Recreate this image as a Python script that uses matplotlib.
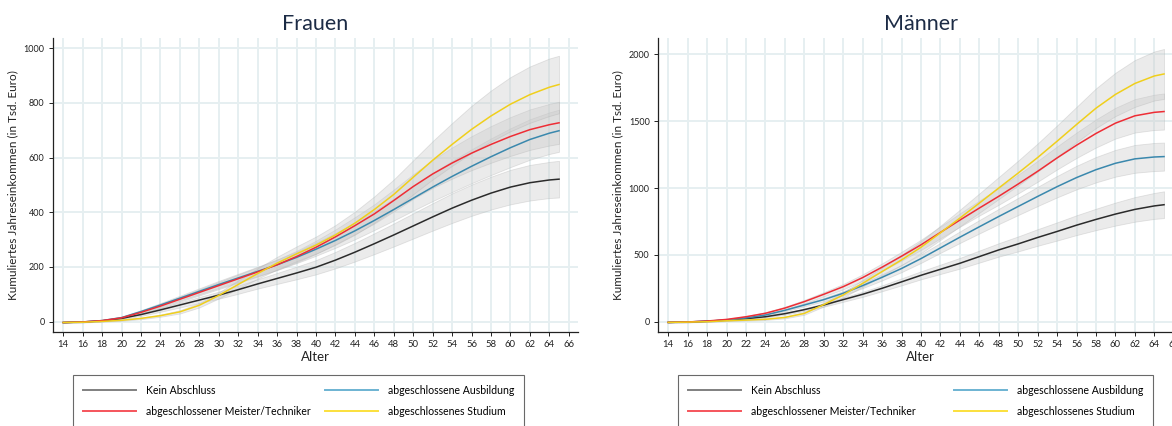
import matplotlib
matplotlib.use("Agg")
import matplotlib.pyplot as plt
from matplotlib.lines import Line2D

plt.rcParams['font.family'] = ['Lato', 'DejaVu Sans']

ages = [14, 16, 18, 20, 22, 24, 26, 28, 30, 32, 34, 36, 38, 40, 42, 44, 46, 48, 50, 52, 54, 56, 58, 60, 62, 64, 65]

series_labels = ["Kein Abschluss", "abgeschlossene Ausbildung",
                 "abgeschlossener Meister/Techniker", "abgeschlossenes Studium"]

# Frauen
f_kein = [-3, -1, 3, 12, 26, 43, 61, 79, 97, 117, 138, 158, 178, 199, 225, 254, 285, 317, 350, 383, 415, 444, 470, 492, 508, 518, 521]
f_kein_ci = [1, 1, 2, 3, 5, 7, 9, 11, 13, 15, 17, 20, 23, 26, 30, 34, 38, 42, 46, 50, 54, 57, 60, 63, 65, 66, 67]
f_ausb = [-3, -1, 4, 15, 37, 61, 86, 111, 136, 160, 184, 208, 235, 265, 297, 332, 370, 410, 451, 492, 531, 568, 603, 636, 666, 689, 698]
f_ausb_ci = [1, 1, 2, 3, 5, 7, 9, 11, 13, 15, 17, 19, 21, 24, 27, 31, 35, 40, 45, 51, 57, 62, 67, 71, 74, 76, 77]
f_meis = [-3, -1, 4, 14, 34, 57, 82, 107, 132, 157, 182, 208, 238, 272, 310, 351, 394, 443, 494, 540, 580, 616, 648, 677, 702, 720, 727]
f_meis_ci = [1, 1, 2, 3, 5, 7, 9, 11, 13, 15, 17, 19, 21, 24, 27, 31, 35, 40, 45, 51, 57, 62, 67, 71, 74, 76, 77]
f_stud = [-3, -2, 1, 5, 12, 22, 36, 60, 96, 136, 176, 214, 248, 280, 317, 360, 410, 465, 528, 590, 648, 703, 752, 795, 830, 857, 867]
f_stud_ci = [1, 1, 1, 2, 3, 4, 6, 8, 11, 15, 19, 23, 27, 31, 36, 42, 48, 55, 62, 70, 78, 86, 93, 99, 103, 105, 105]

# Männer
m_kein = [-5, -2, 3, 12, 23, 37, 60, 90, 125, 165, 205, 250, 298, 347, 392, 437, 487, 537, 582, 630, 675, 722, 765, 805, 840, 866, 875]
m_kein_ci = [2, 2, 3, 4, 5, 6, 8, 10, 13, 16, 19, 22, 26, 30, 35, 40, 45, 50, 56, 62, 68, 74, 80, 86, 92, 97, 100]
m_ausb = [-5, -2, 4, 13, 28, 50, 85, 125, 165, 213, 270, 332, 398, 472, 552, 632, 710, 787, 862, 937, 1010, 1078, 1137, 1185, 1218, 1232, 1235]
m_ausb_ci = [2, 2, 3, 4, 5, 6, 8, 10, 13, 16, 19, 23, 27, 32, 37, 43, 50, 57, 64, 72, 80, 88, 95, 100, 104, 105, 105]
m_meis = [-5, -2, 5, 17, 37, 63, 102, 150, 205, 262, 330, 408, 490, 575, 668, 760, 850, 938, 1030, 1125, 1225, 1320, 1408, 1485, 1540, 1566, 1572]
m_meis_ci = [2, 2, 3, 4, 6, 8, 10, 13, 16, 20, 24, 28, 33, 38, 44, 50, 56, 63, 70, 78, 86, 95, 105, 115, 125, 132, 135]
m_stud = [-5, -3, 0, 7, 12, 18, 32, 62, 128, 200, 287, 375, 462, 557, 665, 775, 887, 1000, 1112, 1228, 1350, 1475, 1597, 1700, 1782, 1838, 1853]
m_stud_ci = [2, 2, 2, 3, 4, 5, 7, 10, 14, 19, 25, 31, 38, 45, 53, 62, 72, 82, 93, 105, 118, 132, 148, 162, 175, 183, 187]

x_ticks = list(range(14, 67, 2))
f_yticks = [0, 200, 400, 600, 800, 1000]
m_yticks = [0, 500, 1000, 1500, 2000]

line_colors = {"kein": "#2b2b2b", "ausb": "#3a88ad", "meis": "#ee2d35", "stud": "#f0cf1c"}
legend_colors = {"kein": "#808080", "ausb": "#6db3d2", "meis": "#f5545b", "stud": "#fbe03c"}
grid_color = "#e6eff1"
title_color = "#1c2b45"

W, H = 1172, 426
fig = plt.figure(figsize=(W / 100, H / 100), dpi=100)


def panel(rect, title, data, yticks, ylim):
    ax = fig.add_axes(rect)
    ax.set_xlim(12.95, 66.95)
    ax.set_ylim(*ylim)
    ax.set_xticks(x_ticks)
    ax.set_yticks(yticks)
    ax.grid(True, color=grid_color, linewidth=1.4)
    ax.set_axisbelow(True)
    for s in ["top", "right"]:
        ax.spines[s].set_visible(False)
    for s in ["left", "bottom"]:
        ax.spines[s].set_color("#222222")
        ax.spines[s].set_linewidth(0.9)
    ax.tick_params(axis="both", labelsize=6.5, length=3, width=0.7, colors="#222222", pad=3)
    ax.tick_params(axis="x", labelsize=6.8)
    for key, vals, ci in data:
        lo = [v - c for v, c in zip(vals, ci)]
        hi = [v + c for v, c in zip(vals, ci)]
        ax.fill_between(ages, lo, hi, facecolor="#c8c8c8", alpha=0.35,
                        edgecolor="#b0b0b0", linewidth=0.6, zorder=2)
    for key, vals, ci in data:
        ax.plot(ages, vals, color=line_colors[key], linewidth=1.1, zorder=3)
    ax.set_title(title, fontsize=15.5, color=title_color, pad=6)
    ax.set_xlabel("Alter", fontsize=9.5, labelpad=1, color="#222222")
    ax.set_ylabel("Kumuliertes Jahreseinkommen (in Tsd. Euro)", fontsize=8.5, labelpad=4, color="#222222")
    return ax


f_data = [("kein", f_kein, f_kein_ci), ("ausb", f_ausb, f_ausb_ci),
          ("meis", f_meis, f_meis_ci), ("stud", f_stud, f_stud_ci)]
m_data = [("kein", m_kein, m_kein_ci), ("ausb", m_ausb, m_ausb_ci),
          ("meis", m_meis, m_meis_ci), ("stud", m_stud, m_stud_ci)]

ax1 = panel([53 / W, 1 - 332 / H, 525 / W, 294 / H], "Frauen", f_data, f_yticks, (-37.7, 1037))
ax2 = panel([658 / W, 1 - 332 / H, 525 / W, 294 / H], "Männer", m_data, m_yticks, (-77, 2122))

keys_order = ["kein", "meis", "ausb", "stud"]
label_of = {"kein": series_labels[0], "ausb": series_labels[1],
            "meis": series_labels[2], "stud": series_labels[3]}
handles = [Line2D([0], [0], color=legend_colors[k], linewidth=1.4) for k in keys_order]
labels = [label_of[k] for k in keys_order]

for x0, x1 in [(73, 524), (678, 1153)]:
    leg = fig.legend(handles, labels, ncol=2, loc="upper left",
                     bbox_to_anchor=(x0 / W, 1 - 375 / H, (x1 - x0) / W, 0.0),
                     mode="expand", fontsize=7.6, frameon=True, fancybox=False,
                     handlelength=5.0, handletextpad=0.95, labelspacing=0.95,
                     borderpad=0.95, borderaxespad=0.0, columnspacing=1.0)
    leg.get_frame().set_edgecolor("#444444")
    leg.get_frame().set_linewidth(0.8)

fig.savefig("out.png", dpi=100)
